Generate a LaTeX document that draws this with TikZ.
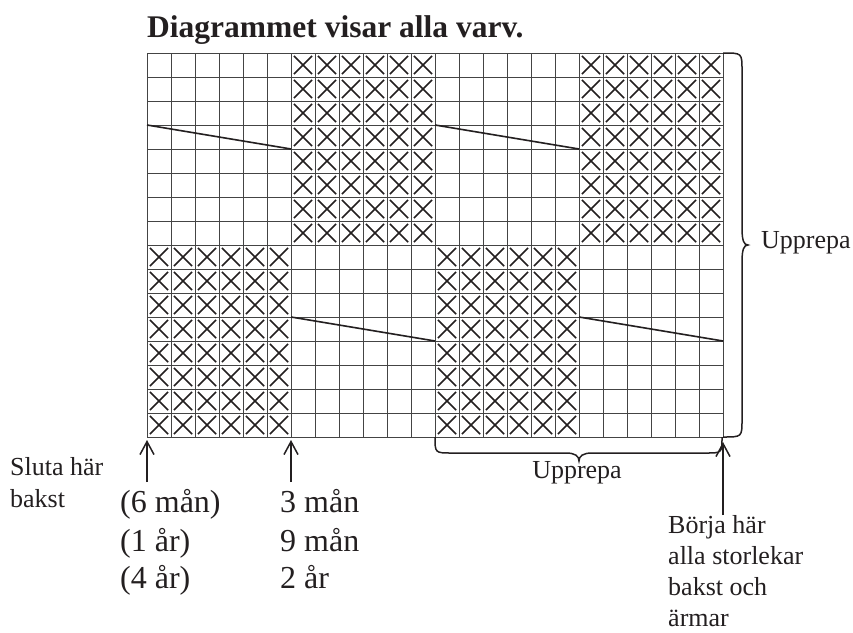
\documentclass[tikz,border=0pt]{standalone}
\usepackage{fontspec}
\setmainfont{Liberation Serif}
\usetikzlibrary{arrows.meta}
\definecolor{ink}{HTML}{231F20}
\definecolor{gridc}{HTML}{444444}
\begin{document}
\begin{tikzpicture}[x=1pt,y=-1pt,
  lab/.style={font=\fontsize{26}{31}\selectfont, text=ink, inner sep=0pt, anchor=base west},
  big/.style={font=\fontsize{32}{38}\selectfont, text=ink, inner sep=0pt, anchor=base west},
  ttl/.style={font=\bfseries\fontsize{31.5}{38}\selectfont, text=ink, inner sep=0pt, anchor=base west},
  gridline/.style={draw=gridc, line width=1pt},
  crossline/.style={draw=ink, line width=1.5pt},
  slant/.style={draw=ink, line width=1.6pt},
  bracep/.style={draw=ink, line width=1.5pt},
  arr/.style={draw=ink, line width=1.5pt, -{Straight Barb[length=13pt,width=14pt]}}]
\useasboundingbox (0,0) rectangle (853,632);
\node[ttl] (title) at (147,37) {Diagrammet visar alla varv.};
\begin{scope}[shift={(147,53)}, x=24pt, y=-24pt]
  % crosses top half
  \foreach \b in {6,18}{
    \foreach \i in {0,...,5}{
      \foreach \r in {0,...,7}{
        \draw[crossline] ({\b+\i+0.12},{\r+0.12}) -- ({\b+\i+0.88},{\r+0.88})
                         ({\b+\i+0.88},{\r+0.12}) -- ({\b+\i+0.12},{\r+0.88});
      }}}
  % crosses bottom half
  \foreach \b in {0,12}{
    \foreach \i in {0,...,5}{
      \foreach \r in {8,...,15}{
        \draw[crossline] ({\b+\i+0.12},{\r+0.12}) -- ({\b+\i+0.88},{\r+0.88})
                         ({\b+\i+0.88},{\r+0.12}) -- ({\b+\i+0.12},{\r+0.88});
      }}}
  % grid
  \foreach \c in {0,...,24}{ \draw[gridline] (\c,0) -- (\c,16); }
  \foreach \r in {0,...,16}{ \draw[gridline] (0,\r) -- (24,\r); }
  % slanted lines
  \draw[slant] (0,3) -- (6,4);
  \draw[slant] (12,3) -- (18,4);
  \draw[slant] (6,11) -- (12,12);
  \draw[slant] (18,11) -- (24,12);
\end{scope}
% right brace
\draw[bracep] (723,53) .. controls (742,53) .. (742,70) -- (742,228)
  .. controls (742,241) and (744,245) .. (748,245)
  .. controls (744,245) and (742,249) .. (742,262) -- (742,420)
  .. controls (742,437) .. (723,437);
\node[lab] (uppr) at (761,248) {Upprepa};
% bottom brace
\draw[bracep] (435,437) .. controls (435,453) .. (452,453) -- (566,453)
  .. controls (575,453) and (579,456) .. (579,461)
  .. controls (579,456) and (583,453) .. (592,453) -- (706,453)
  .. controls (722,453) .. (722,437);
\node[lab, anchor=base] (uppb) at (577,478) {Upprepa};
% arrows
\coordinate (a1b) at (147,482); \coordinate (a1t) at (147,440);
\coordinate (a2b) at (291,482); \coordinate (a2t) at (291,440);
\coordinate (a3b) at (723,515); \coordinate (a3t) at (723,442);
\draw[arr] (a1b) -- (a1t);
\draw[arr] (a2b) -- (a2t);
\draw[arr] (a3b) -- (a3t);
% left labels
\node[lab] (sl1) at (10,475) {Sluta här};
\node[lab] (sl2) at (10,507) {bakst};
\node[big] (s1) at (120,512) {(6 mån)};
\node[big] (s2) at (120,551) {(1 år)};
\node[big] (s3) at (120,588) {(4 år)};
\node[big] (t1) at (280,512) {3 mån};
\node[big] (t2) at (280,551) {9 mån};
\node[big] (t3) at (280,588) {2 år};
% right labels
\node[lab] (b1) at (668,533) {Börja här};
\node[lab] (b2) at (668,564) {alla storlekar};
\node[lab] (b3) at (668,595) {bakst och};
\node[lab] (b4) at (668,626) {ärmar};
\end{tikzpicture}
\end{document}
